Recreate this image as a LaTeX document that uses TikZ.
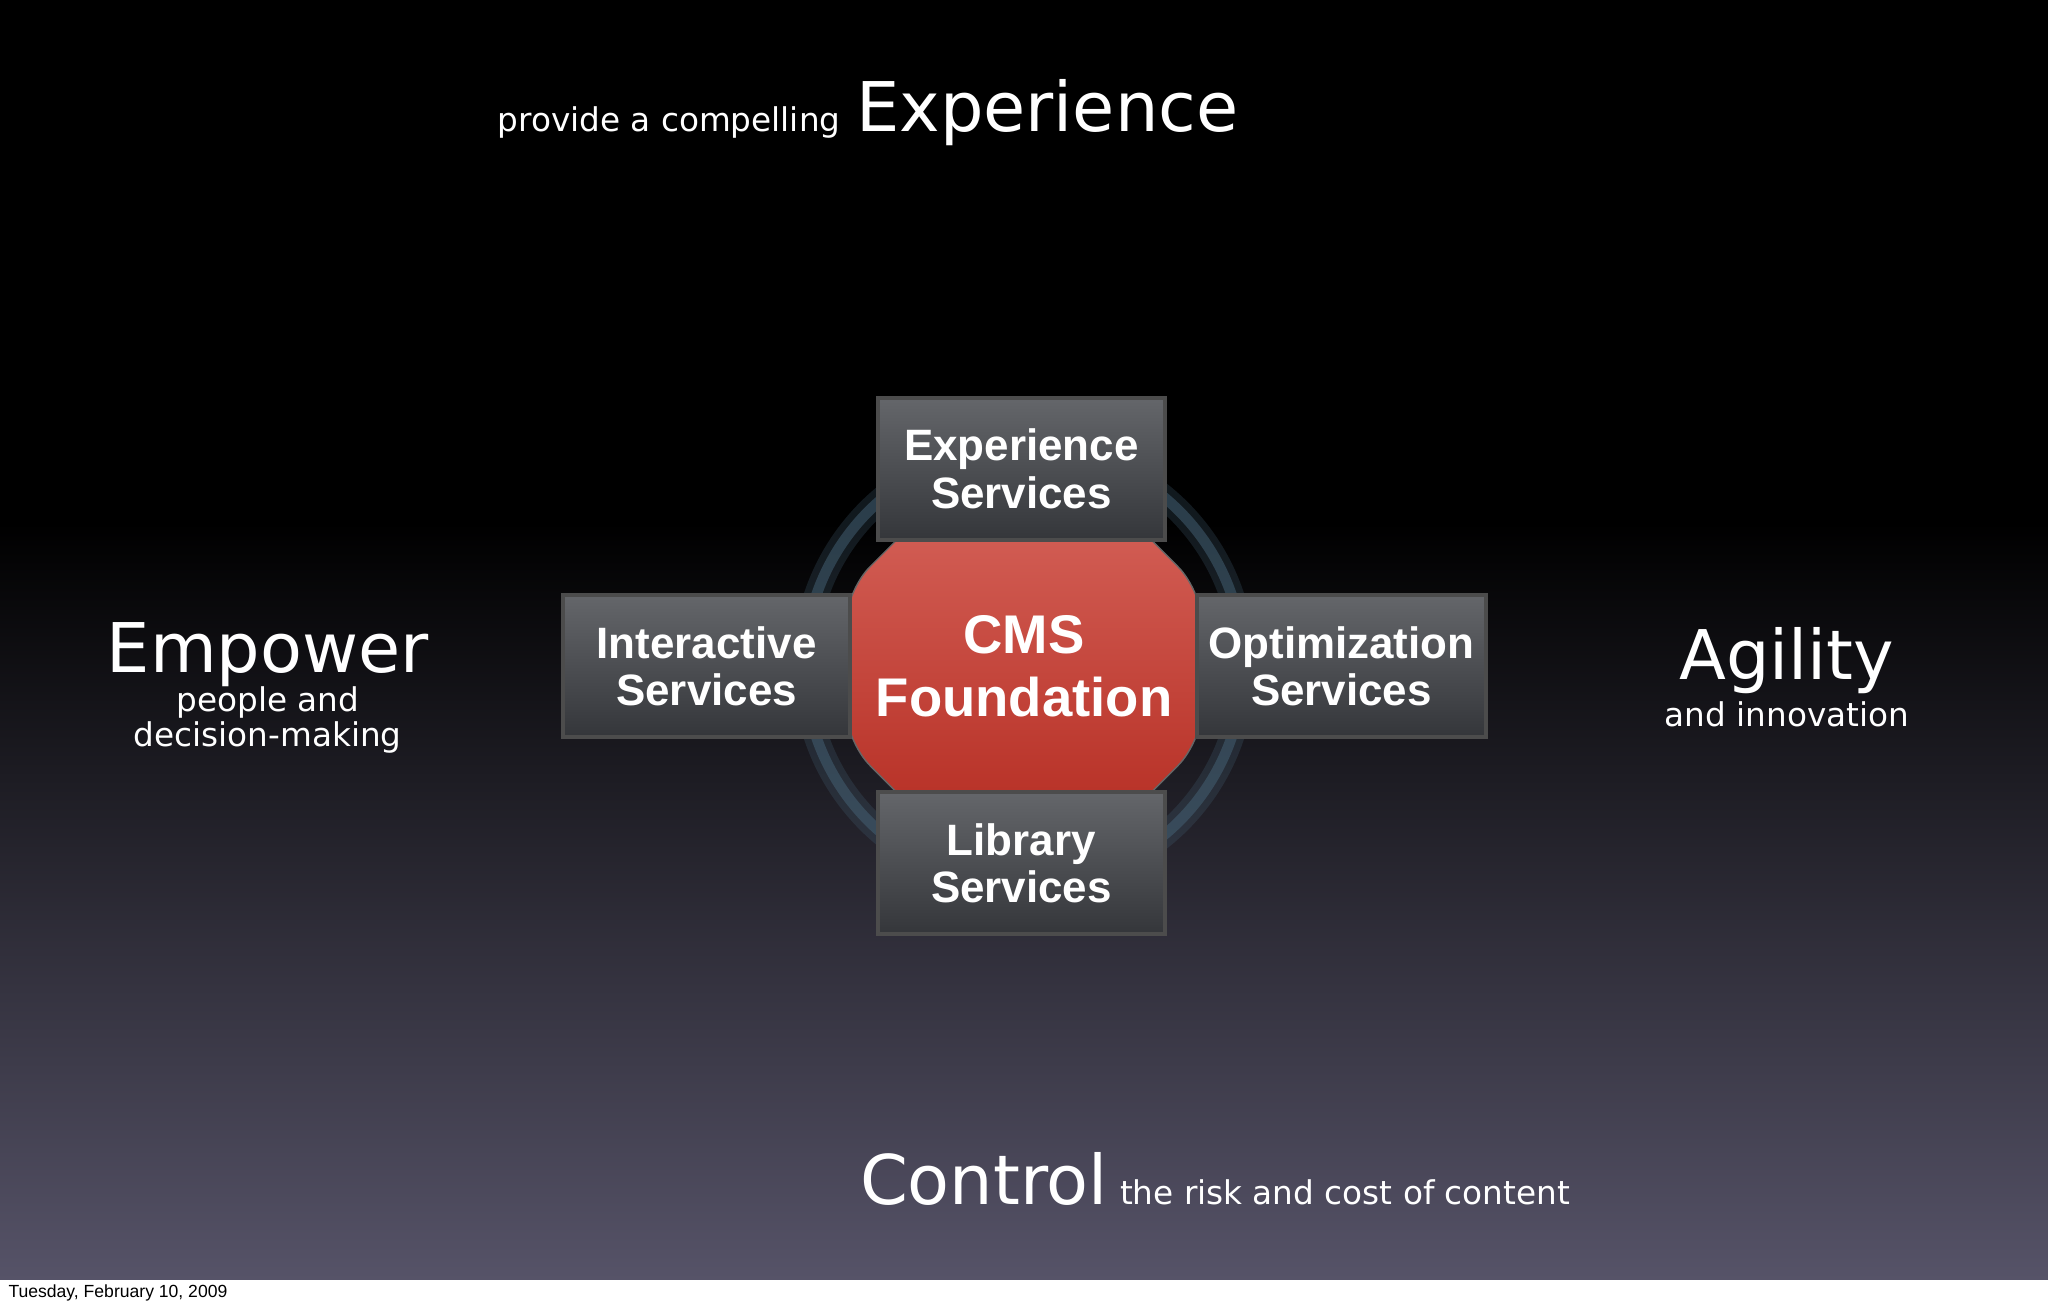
\documentclass[tikz,border=0pt]{standalone}
\usepackage{fontspec}
\setmainfont{DejaVu Sans}
\newfontfamily\boxfont{Liberation Sans}
\usetikzlibrary{positioning,shapes.geometric}
\definecolor{bgBottom}{RGB}{86,83,104}
\definecolor{boxTop}{RGB}{100,102,106}
\definecolor{boxBottom}{RGB}{52,54,58}
\definecolor{cmsRed}{RGB}{200,48,36}
\definecolor{ringBlue}{RGB}{70,100,120}
\tikzset{
  x=0.01306cm, y=-0.01306cm,
  svc/.style={draw=black!70,line width=1.2pt,top color=boxTop,bottom color=boxBottom,
    minimum width=2.87cm,minimum height=1.42cm,text=white,align=center,
    font=\boxfont\bfseries\fontsize{12.5}{13.5}\selectfont},
  big/.style={text=white,font=\fontsize{19.5}{20}\selectfont,inner sep=0},
  small/.style={text=white,font=\fontsize{9.3}{10}\selectfont,inner sep=0},
}
\begin{document}
\begin{tikzpicture}
  \useasboundingbox (0,0) rectangle (1568,1000);
  % background
  \fill[black] (0,0) rectangle (1568,400);
  \shade[top color=black,bottom color=bgBottom] (0,400) rectangle (1568,980);
  \fill[white] (0,980) rectangle (1568,1000);
  \node[anchor=west,inner sep=0,font=\boxfont\fontsize{5}{6}\selectfont] (date) at (6,990) {Tuesday, February 10, 2009};

  % titles
  \node[big,anchor=base west] (exp) at (655,101) {Experience};
  \node[small,anchor=base east] (expsub) at (644,101) {provide a compelling};
  \node[big,anchor=base] (emp) at (205,515) {Empower};
  \node[small,align=center,anchor=north,font=\fontsize{9.3}{8.6}\selectfont] (empsub) at (205,525) {people and\\decision-making};
  \node[big,anchor=base] (agi) at (1368,520) {Agility};
  \node[small,anchor=base] (agisub) at (1368,556) {and innovation};
  \node[big,anchor=base west] (ctl) at (658,922) {Control};
  \node[small,anchor=base west] (ctlsub) at (857,922) {the risk and cost of content};

  % ring and core
  \coordinate (core) at (784,510);
  \draw[ringBlue,line width=7pt,opacity=0.25] (core) circle (168);
  \draw[ringBlue,line width=3pt,opacity=0.5] (core) circle (168);
  \shade[top color=cmsRed!75!white,bottom color=cmsRed!90!black,draw=black!60,rounded corners=10pt]
    ([shift={(137,-57)}]core) -- ([shift={(137,57)}]core) -- ([shift={(57,137)}]core)
    -- ([shift={(-57,137)}]core) -- ([shift={(-137,57)}]core) -- ([shift={(-137,-57)}]core)
    -- ([shift={(-57,-137)}]core) -- ([shift={(57,-137)}]core) -- cycle;
  \node[text=white,align=center,font=\boxfont\bfseries\fontsize{15.5}{18}\selectfont]
    (cms) at (core) {CMS\\Foundation};

  % services
  \node[svc] (es) at (782,359) {Experience\\Services};
  \node[svc] (is) at (541,510) {Interactive\\Services};
  \node[svc] (os) at (1027,510) {Optimization\\Services};
  \node[svc] (ls) at (782,661) {Library\\Services};
\end{tikzpicture}
\end{document}
